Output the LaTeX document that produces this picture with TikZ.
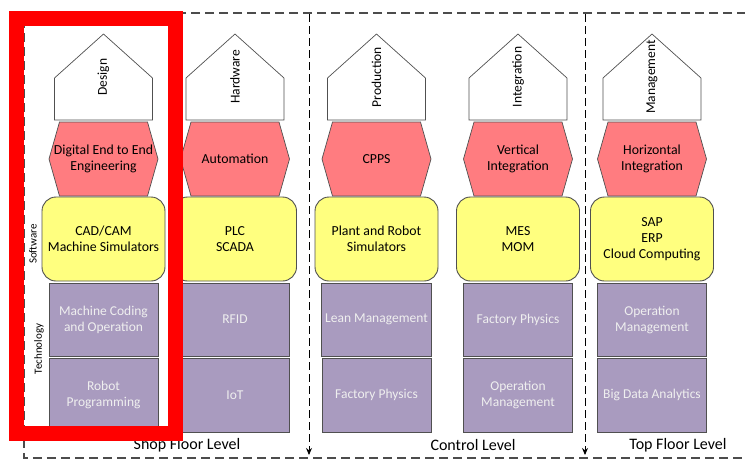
\documentclass[tikz,border=0pt]{standalone}
\usepackage{fontspec}
\setmainfont{Carlito}
\usetikzlibrary{arrows.meta}
\definecolor{hexred}{HTML}{FF7C80}
\definecolor{softyellow}{HTML}{FFFF7F}
\definecolor{techpurple}{HTML}{A99BBF}
\definecolor{techtext}{HTML}{EFEFEF}
\definecolor{edgegray}{HTML}{505050}
\definecolor{frame}{HTML}{FF0000}

\tikzset{
  houseshape/.style={draw=edgegray, fill=white, line width=0.7pt, line join=miter},
  hexshape/.style={draw=edgegray, fill=hexred, line width=0.7pt},
  softbox/.style={draw=edgegray, fill=softyellow, line width=0.9pt, rounded corners=14pt,
    minimum width=123pt, minimum height=84pt, align=center, font=\fontsize{13.8}{16}\selectfont},
  techbox/.style={draw=edgegray, fill=techpurple, line width=0.9pt, text=techtext,
    minimum width=109pt, align=center, font=\fontsize{13.5}{16}\selectfont},
  labeltext/.style={align=center, font=\fontsize{13.8}{16}\selectfont},
  vertlabel/.style={rotate=90, font=\fontsize{13.5}{15}\selectfont},
  sidelabel/.style={rotate=90, font=\fontsize{11}{13}\selectfont},
  levellabel/.style={font=\fontsize{16}{19}\selectfont},
  outline/.style={draw=black!70, line width=1.1pt, dash pattern=on 9pt off 5pt},
  divider/.style={draw=black, line width=0.9pt, dash pattern=on 8pt off 4pt,
    -{Stealth[length=7pt,width=6pt]}},
}

% one stacked column: #1 centre x, #2 name, #3 roof text, #4 hexagon text,
% #5 software text, #6 upper technology text, #7 lower technology text
\newcommand\stackcolumn[7]{%
  \draw[houseshape] ({#1-49},120) -- ({#1-49},78) -- (#1,34) -- ({#1+49},78) -- ({#1+49},120) -- cycle;
  \node[vertlabel] (#2roof) at (#1,77) {#3};
  \draw[hexshape] ({#1-44},122) -- ({#1+44},122) -- ({#1+54.5},159) -- ({#1+44},196)
    -- ({#1-44},196) -- ({#1-54.5},159) -- cycle;
  \node[labeltext] (#2hex) at (#1,159) {#4};
  \node[softbox] (#2soft) at (#1,239) {#5};
  \node[techbox, minimum height=73pt] (#2techa) at (#1,319.5) {#6};
  \node[techbox, minimum height=74pt] (#2techb) at (#1,395) {#7};
}

\begin{document}
\begin{tikzpicture}[x=1pt, y=-1pt]
\useasboundingbox (0,0) rectangle (745,459);

% outer dashed frame, open to the right
\coordinate (frameTR) at (760,13);
\coordinate (frameTL) at (24,13);
\coordinate (frameBL) at (24,458);
\coordinate (frameBR) at (760,458);
\draw[outline] (frameTR) -- (frameTL) -- (frameBL) -- (frameBR);

% level dividers
\coordinate (divAtop) at (309,14);
\coordinate (divAbot) at (309,455);
\coordinate (divBtop) at (585,14);
\coordinate (divBbot) at (585,455);
\draw[divider] (divAtop) -- (divAbot);
\draw[divider] (divBtop) -- (divBbot);

\stackcolumn{103.5}{design}{Design}{Digital End to End\\Engineering}{CAD/CAM\\Machine Simulators}{Machine Coding\\and Operation}{Robot\\Programming}
\stackcolumn{235}{hardware}{Hardware}{Automation}{PLC\\SCADA}{RFID}{IoT}
\stackcolumn{376.5}{production}{Production}{CPPS}{Plant and Robot\\Simulators}{Lean Management}{Factory Physics}
\stackcolumn{518}{integration}{Integration}{Vertical\\Integration}{MES\\MOM}{Factory Physics}{Operation\\Management}
\stackcolumn{652}{management}{Management}{Horizontal\\Integration}{SAP\\ERP\\Cloud Computing}{Operation\\Management}{Big Data Analytics}

% layer captions on the left
\node[sidelabel] (software) at (33,244) {Software};
\node[sidelabel] (technology) at (39,349) {Technology};

% level captions
\node[levellabel] (shop) at (187,445) {Shop Floor Level};
\node[levellabel] (control) at (473,445) {Control Level};
\node[levellabel] (topfloor) at (678,445) {Top Floor Level};

% highlight frame around the first column
\draw[draw=frame, line width=15pt, line join=miter] (16.5,18.5) rectangle (175.5,433);
\end{tikzpicture}
\end{document}
